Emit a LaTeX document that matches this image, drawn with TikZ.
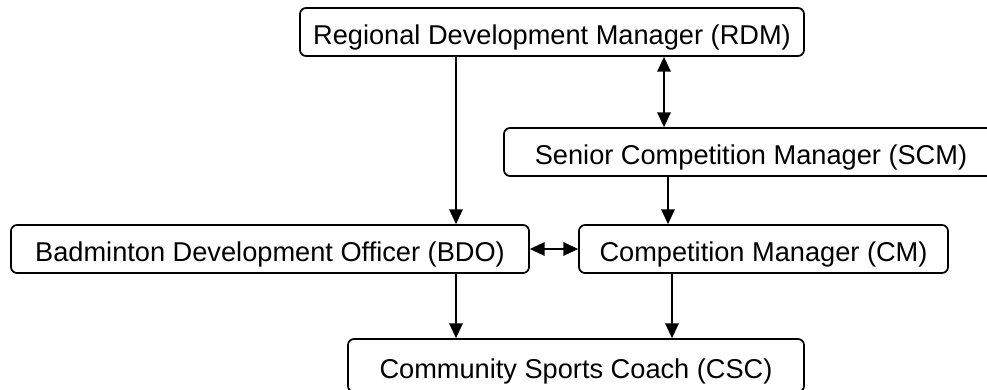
\documentclass[tikz,border=0pt]{standalone}
\usepackage{fontspec}
\setmainfont{Liberation Sans}
\usetikzlibrary{arrows.meta}

\begin{document}
\begin{tikzpicture}[x=0.75pt,y=-0.75pt]
\tikzstyle{every node}=[draw, rounded corners=4.5pt, line width=1.3pt, minimum height=36pt, inner sep=0pt, text height=19pt, text depth=0pt, font=\fontsize{20.4}{24}\selectfont]
\tikzstyle{link}=[line width=1.3pt, -{Triangle[length=11pt,width=10pt]}]
\tikzstyle{both}=[line width=1.3pt, {Triangle[length=11pt,width=10pt]}-{Triangle[length=11pt,width=10pt]}]
\useasboundingbox (0,0) rectangle (987,389);
\draw (552,32) node (rdm) [minimum width=378pt] {Regional Development Manager (RDM)};
\draw (751,152) node (scm) [minimum width=370.5pt] {Senior Competition Manager (SCM)};
\draw (270,249) node (bdo) [minimum width=388.5pt] {Badminton Development Officer (BDO)};
\draw (763.5,249) node (cm) [minimum width=276.75pt] {Competition Manager (CM)};
\draw (576,365.5) node (csc) [minimum width=342pt, minimum height=39.75pt] {Community Sports Coach (CSC)};
\coordinate (xbdo) at (456,0);
\coordinate (xscm) at (664,0);
\coordinate (xcm) at (668,0);
\coordinate (xcsc) at (672,0);
\draw[link] (rdm.south -| xbdo) -- (bdo.north -| xbdo);
\draw[both] (rdm.south -| xscm) -- (scm.north -| xscm);
\draw[link] (scm.south -| xcm) -- (cm.north -| xcm);
\draw[both] (bdo.east) -- (cm.west);
\draw[link] (bdo.south -| xbdo) -- (csc.north -| xbdo);
\draw[link] (cm.south -| xcsc) -- (csc.north -| xcsc);
\end{tikzpicture}
\end{document}
